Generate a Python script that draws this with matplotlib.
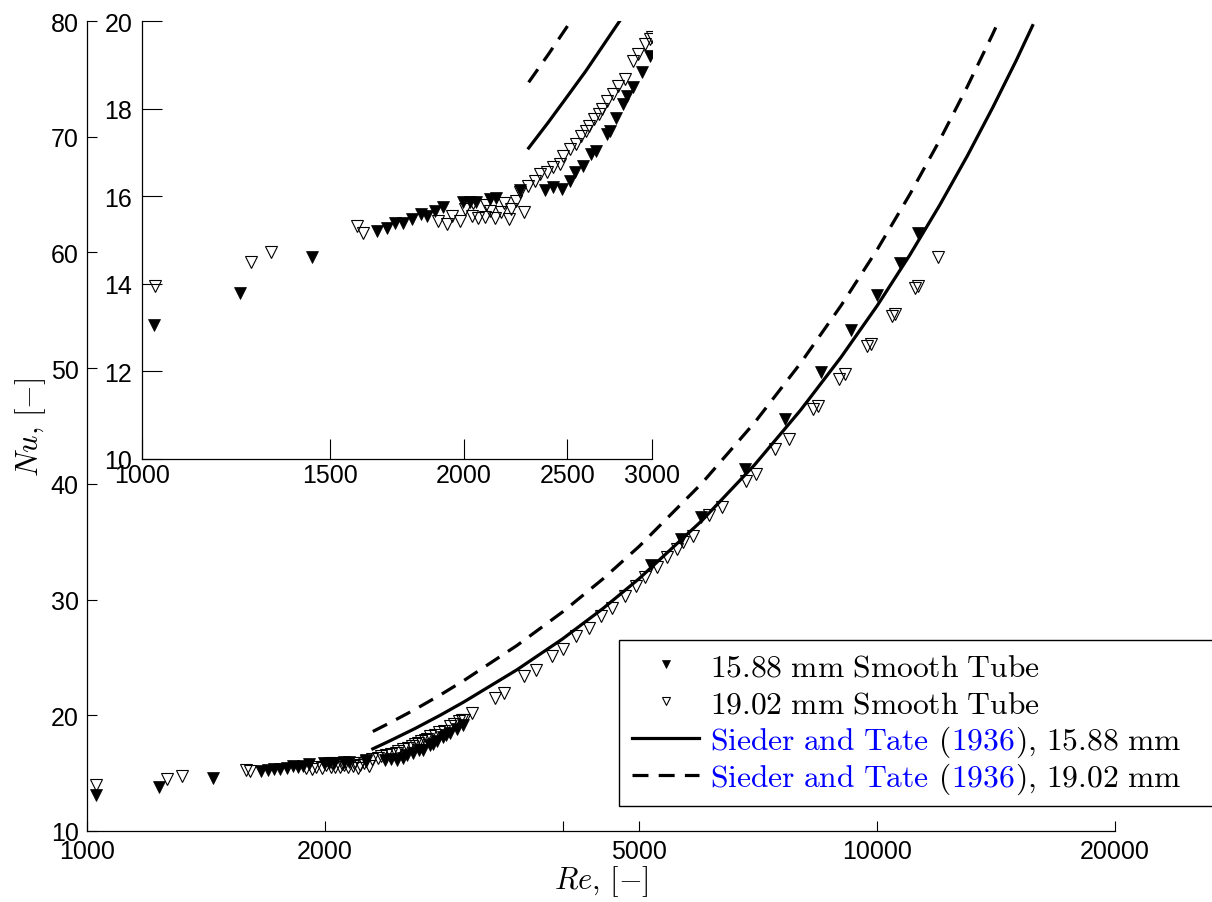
import matplotlib
matplotlib.use('Agg')
import matplotlib.pyplot as plt
from matplotlib.ticker import FixedLocator, FixedFormatter, NullLocator
from matplotlib.lines import Line2D
from matplotlib.transforms import IdentityTransform

plt.rcParams['mathtext.fontset'] = 'cm'
plt.rcParams['font.family'] = ['Liberation Sans', 'DejaVu Sans']

# ---------------- data ----------------
re_1588 = [1026, 1235, 1443, 1659, 1694, 1725, 1755, 1790, 1822, 1849, 1879, 1912,
           1997, 2026, 2054, 2115, 2145, 2257, 2382, 2425, 2469, 2514, 2540, 2586,
           2632, 2660, 2720, 2740, 2774, 2818, 2843, 2879, 2937, 2988,
           5180, 5650, 5985, 6806, 7649, 8490, 9270, 10010, 10675, 11260]
nu_1588 = [13.07, 13.79, 14.62, 15.21, 15.27, 15.39, 15.39, 15.48, 15.59, 15.55, 15.66, 15.75,
           15.87, 15.87, 15.87, 15.94, 15.97, 16.15, 16.15, 16.20, 16.16, 16.35, 16.56, 16.70,
           16.96, 17.04, 17.42, 17.50, 17.79, 18.11, 18.29, 18.49, 18.83, 19.19,
           33.0, 35.2, 37.1, 41.3, 45.6, 49.7, 53.3, 56.3, 59.1, 61.7]

re_1902 = [1028, 1264, 1320, 1589, 1608, 1892, 1928, 1948, 1984, 2005, 2035, 2040, 2063,
           2093, 2100, 2115, 2137, 2168, 2180, 2206, 2215, 2239, 2276, 2257, 2297, 2332,
           2357, 2391, 2425, 2459, 2477, 2514, 2548, 2575, 2602, 2620, 2647, 2675, 2693,
           2721, 2759, 2791, 2831, 2880, 2912, 2953, 2984, 3002, 3067, 3288, 3373, 3572,
           3700, 3875, 4000, 4157, 4320, 4474, 4620, 4790, 4946, 5090, 5260, 5414, 5575,
           5685, 5853, 6128, 6360, 6820, 7020, 7430, 7730, 8285, 8420, 8960, 9100, 9710,
           9830, 10450, 10530, 11160, 11270, 11950]
nu_1902 = [13.95, 14.50, 14.73, 15.31, 15.15, 15.44, 15.37, 15.55, 15.44, 15.71, 15.55, 15.85, 15.50,
           15.52, 15.80, 15.67, 15.50, 15.63, 15.85, 15.48, 15.71, 15.90, 15.65, 16.09, 16.24, 16.35,
           16.51, 16.55, 16.66, 16.74, 16.92, 17.08, 17.19, 17.38, 17.50, 17.61, 17.76, 17.88, 17.99,
           18.18, 18.33, 18.52, 18.68, 19.09, 19.25, 19.47, 19.59, 19.63, 20.17, 21.5, 21.9, 23.37,
           23.94, 25.15, 25.73, 26.83, 27.52, 28.61, 29.25, 30.34, 31.15, 31.93, 32.79, 33.66, 34.37,
           34.95, 35.52, 37.31, 37.98, 40.28, 40.86, 43.02, 43.88, 46.47, 46.7, 49.07, 49.5, 51.89,
           52.09, 54.49, 54.69, 56.91, 57.13, 59.58]

re_st_1588 = [2300, 2400, 2500, 2600, 2800, 3000, 3500, 4000, 4500, 5000, 6000, 7000,
              8000, 9000, 10000, 11000, 12000, 13000, 14000, 15000, 15730]
nu_st_1588 = [17.10, 17.69, 18.28, 18.85, 20.01, 21.16, 23.93, 26.61, 29.24, 31.82, 36.82, 41.66,
              46.37, 50.94, 55.39, 59.78, 64.09, 68.32, 72.50, 76.60, 79.6]
re_st_1902 = [2300, 2400, 2500, 2600, 2800, 3000, 3500, 4000, 4500, 5000, 6000, 7000,
              8000, 9000, 10000, 11000, 12000, 13000, 14000, 14250]
nu_st_1902 = [18.60, 19.24, 19.88, 20.50, 21.76, 23.01, 26.03, 28.94, 31.80, 34.61, 40.05, 45.31,
              50.43, 55.40, 60.24, 65.02, 69.70, 74.31, 78.85, 80.0]

main_xticks = [1000, 2000, 4000, 5000, 10000, 20000]
main_xticklabels = ['1000', '2000', '', '5000', '10000', '20000']
main_yticks = [10, 20, 30, 40, 50, 60, 70, 80]
inset_xticks = [1000, 1500, 2000, 2500, 3000]
inset_yticks = [10, 12, 14, 16, 18, 20]

legend_labels = [r'$\mathrm{15.88\ mm\ Smooth\ Tube}$',
                 r'$\mathrm{19.02\ mm\ Smooth\ Tube}$',
                 r'$\mathrm{Sieder\ and\ Tate}$',
                 r'$\mathrm{Sieder\ and\ Tate}$']
legend_tails = ['15.88', '19.02']

# ---------------- figure ----------------
W, H = 1212, 903
fig = plt.figure(figsize=(W / 100, H / 100), dpi=100)


def rect(l, t, r, b):
    return [l / W, 1 - b / H, (r - l) / W, (b - t) / H]


BLUE = '#0000FF'
MS = 8
TICKSIZE = 18
LEGSIZE = 22.7
solid_kw = dict(color='k', lw=2.3, ls='-')
dash_kw = dict(color='k', lw=2.3, ls=(0, (5, 3.2)))
fill_kw = dict(ls='none', marker='v', ms=MS, mfc='k', mec='k', mew=0.5)
open_kw = dict(ls='none', marker='v', ms=MS, mfc='none', mec='k', mew=0.8)


def style_axes(a):
    for s in ['top', 'right']:
        a.spines[s].set_visible(False)
    for s in ['left', 'bottom']:
        a.spines[s].set_linewidth(0.9)
        a.spines[s].set_color('k')


# main axes
ax = fig.add_axes(rect(87, 22, 1115, 832))
ax.set_xscale('log')
ax.plot(re_1588, nu_1588, **fill_kw)
ax.plot(re_1902, nu_1902, **open_kw)
ax.plot(re_st_1588, nu_st_1588, **solid_kw)
ax.plot(re_st_1902, nu_st_1902, **dash_kw)
ax.set_xlim(1000, 20000)
ax.set_ylim(10, 80)
ax.xaxis.set_major_locator(FixedLocator(main_xticks))
ax.xaxis.set_major_formatter(FixedFormatter(main_xticklabels))
ax.xaxis.set_minor_locator(NullLocator())
ax.yaxis.set_major_locator(FixedLocator(main_yticks))
ax.yaxis.set_minor_locator(NullLocator())
ax.tick_params(direction='in', length=7.5, width=0.8, labelsize=TICKSIZE, colors='k')
ax.tick_params(axis='x', pad=6)
ax.tick_params(axis='y', pad=6)
style_axes(ax)
ax.set_xlabel(r'$Re,\,[-]$', fontsize=22, labelpad=0)
ax.set_ylabel(r'$Nu,\,[-]$', fontsize=22, labelpad=2)

handles = [Line2D([], [], **fill_kw), Line2D([], [], **open_kw),
           Line2D([], [], **solid_kw), Line2D([], [], **dash_kw)]
leg = ax.legend(handles, legend_labels, loc='upper left',
                bbox_to_anchor=(619 / W, 1 - 803 / H, (1218 - 619) / W, (803 - 640.5) / H),
                bbox_transform=fig.transFigure, mode='expand', borderaxespad=0,
                fontsize=LEGSIZE, handlelength=2.15, handletextpad=0.35, borderpad=0.4,
                labelspacing=0.22, fancybox=False, framealpha=1, edgecolor='k',
                markerscale=0.7)
leg.get_frame().set_linewidth(1.0)
for t in leg.get_texts()[2:]:
    t.set_color(BLUE)

# inset axes
ins = fig.add_axes(rect(142, 22, 652, 460))
ins.set_xscale('log')
ins.plot(re_1588, nu_1588, **fill_kw)
ins.plot(re_1902, nu_1902, **open_kw)
ins.plot(re_st_1588, nu_st_1588, **solid_kw)
ins.plot(re_st_1902, nu_st_1902, **dash_kw)
ins.set_xlim(1000, 3000)
ins.set_ylim(10, 20)
ins.xaxis.set_major_locator(FixedLocator(inset_xticks))
ins.xaxis.set_major_formatter(FixedFormatter([str(v) for v in inset_xticks]))
ins.xaxis.set_minor_locator(NullLocator())
ins.yaxis.set_major_locator(FixedLocator(inset_yticks))
ins.yaxis.set_minor_locator(NullLocator())
ins.tick_params(direction='in', length=14.5, width=0.8, labelsize=TICKSIZE, colors='k')
ins.tick_params(axis='x', pad=3)
ins.tick_params(axis='y', pad=7)
style_axes(ins)
ins.set_facecolor('white')

# multi-coloured legend labels
fig.canvas.draw()
r = fig.canvas.get_renderer()
for t, tail in zip(leg.get_texts()[2:], legend_tails):
    _, yb = t.get_transform().transform(t.get_position())
    x = t.get_window_extent(r).x1
    pieces = [(r'$\mathrm{\ (}$', 'k'), (r'$\mathrm{1936}$', BLUE),
              (r'$\mathrm{),\,' + tail + r'\ mm}$', 'k')]
    for s, c in pieces:
        tt = fig.text(x, yb, s, color=c, fontsize=LEGSIZE, ha='left', va='baseline',
                      transform=IdentityTransform())
        x = tt.get_window_extent(r).x1

fig.savefig('out.png', dpi=100)
